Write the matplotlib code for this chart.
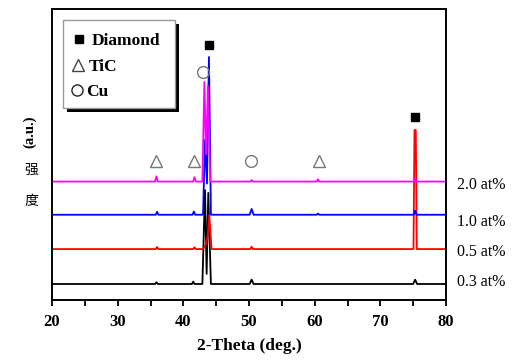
import matplotlib
matplotlib.use("Agg")
import matplotlib.pyplot as plt
from matplotlib.patches import Rectangle

plt.rcParams['font.family'] = ['Liberation Serif', 'Noto Sans CJK SC', 'DejaVu Sans']

# --- data (2-theta, intensity in arbitrary units) ---
x_03 = [20, 35.7, 35.9, 36.1, 41.3, 41.5, 41.7, 42.9, 43.3, 43.55, 43.8, 44.2, 50.1, 50.4, 50.7, 75.0, 75.3, 75.6, 80]
y_03 = [5.5, 5.5, 6.1, 5.5, 5.5, 6.3, 5.5, 5.5, 37.8, 9.0, 36.8, 5.5, 5.5, 7.0, 5.5, 5.5, 7.0, 5.5, 5.5]

x_05 = [20, 35.8, 36.0, 36.2, 41.5, 41.7, 41.9, 43.0, 43.4, 43.7, 43.95, 44.3, 50.2, 50.4, 50.6, 75.05, 75.2, 75.4, 75.55, 80]
y_05 = [17.5, 17.5, 18.2, 17.5, 17.5, 18.1, 17.5, 17.5, 19.0, 22.0, 29.2, 17.5, 17.5, 18.3, 17.5, 17.5, 58.4, 58.4, 17.5, 17.5]

x_10 = [20, 35.8, 36.0, 36.2, 41.4, 41.6, 41.8, 43.0, 43.3, 43.6, 43.9, 44.2, 50.1, 50.4, 50.7, 60.3, 60.5, 60.7, 75.1, 75.3, 75.5, 80]
y_10 = [29.3, 29.3, 30.3, 29.3, 29.3, 30.4, 29.3, 29.3, 55.0, 40.0, 83.5, 29.3, 29.3, 31.3, 29.3, 29.3, 29.7, 29.3, 29.3, 30.8, 29.3, 29.3]

x_20 = [20, 35.7, 35.9, 36.1, 41.5, 41.7, 41.9, 42.9, 43.2, 43.45, 43.75, 44.1, 50.2, 50.4, 50.6, 60.3, 60.5, 60.7, 75.1, 75.3, 75.5, 80]
y_20 = [40.7, 40.7, 42.5, 40.7, 40.7, 42.2, 40.7, 40.7, 74.9, 50.0, 73.5, 40.7, 40.7, 41.2, 40.7, 40.7, 41.5, 40.7, 40.7, 41.7, 40.7, 40.7]

series_labels = ["0.3 at%", "0.5 at%", "1.0 at%", "2.0 at%"]
series_colors = ["black", "#ff0000", "#0000ff", "#ff00ff"]
label_y = [6.2, 16.5, 26.8, 39.5]

diamond_x = [43.9, 75.3]
diamond_y = [87.6, 62.9]
tic_x = [35.8, 41.6, 60.6]
tic_y = [47.8, 47.8, 47.8]
cu_x = [43.0, 50.3]
cu_y = [78.4, 47.8]

legend_names = ["Diamond", "TiC", "Cu"]

W, H = 531, 363
fig = plt.figure(figsize=(W / 100, H / 100), dpi=100)
ax = fig.add_axes([52 / W, 63 / H, 394 / W, 291 / H])

for xs, ys, c in zip([x_03, x_05, x_10, x_20], [y_03, y_05, y_10, y_20], series_colors):
    ax.plot(xs, ys, color=c, lw=1.3)

ax.plot(diamond_x, diamond_y, ls='none', marker='s', ms=5.5, color='black')
ax.plot(tic_x, tic_y, ls='none', marker='^', ms=8, mfc='none', mec='#777777', mew=1.0)
ax.plot(cu_x, cu_y, ls='none', marker='o', ms=8.5, mfc='none', mec='#777777', mew=1.0)

ax.set_xlim(20, 80)
ax.set_ylim(0, 100)
ax.set_yticks([])
ax.set_xticks([20, 30, 40, 50, 60, 70, 80])
ax.set_xticks([25, 35, 45, 55, 65, 75], minor=True)
ax.tick_params(axis='x', which='both', direction='out', length=4, width=1.3, pad=6)
for lab in ax.get_xticklabels():
    lab.set_fontweight('bold')
    lab.set_fontsize(12)
for s in ax.spines.values():
    s.set_linewidth(1.4)
ax.set_xlabel("2-Theta (deg.)", fontsize=12.5, fontweight='bold', labelpad=6)

for lab, b in zip(series_labels, label_y):
    ax.text(81.7, b, lab, fontsize=11.5, va='center', ha='left', clip_on=False)

# y label pieces
fig.text(30 / W, 1 - 132 / H, "(a.u.)", rotation=90, fontsize=10.5, fontweight='bold', ha='center', va='center')
fig.text(31 / W, 1 - 170 / H, "强", fontsize=10, ha='center', va='center', family=['Noto Sans CJK SC'])
fig.text(31 / W, 1 - 201 / H, "度", fontsize=10, ha='center', va='center', family=['Noto Sans CJK SC'])

# legend box drawn in pixel coordinates on an overlay
ov = fig.add_axes([0, 0, 1, 1], facecolor='none')
ov.set_xlim(0, W)
ov.set_ylim(H, 0)
ov.axis('off')
ov.add_patch(Rectangle((67, 24), 112, 88, facecolor='black', edgecolor='none', zorder=1))
ov.add_patch(Rectangle((63, 20), 112, 88, facecolor='white', edgecolor='#999999', lw=1.0, zorder=2))
ov.plot([79], [39], marker='s', ms=6, color='black', ls='none', zorder=3)
ov.plot([77.5], [65], marker='^', ms=8, mfc='none', mec='#444444', mew=1.0, ls='none', zorder=3)
ov.plot([76.5], [90], marker='o', ms=8, mfc='none', mec='#222222', mew=1.0, ls='none', zorder=3)
ov.text(92, 39, legend_names[0], fontsize=12.5, fontweight='bold', va='center_baseline', ha='left', zorder=3)
ov.text(89, 65, legend_names[1], fontsize=12.5, fontweight='bold', va='center_baseline', ha='left', zorder=3)
ov.text(86, 90, legend_names[2], fontsize=12.5, fontweight='bold', va='center_baseline', ha='left', zorder=3)

fig.savefig("out.png", dpi=100)
